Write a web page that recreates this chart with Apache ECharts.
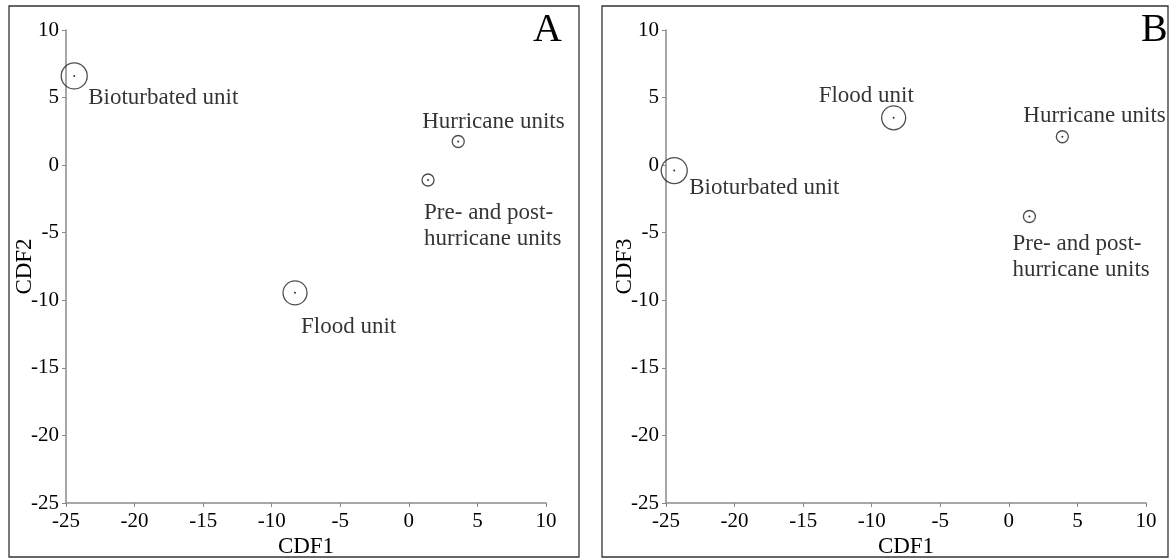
<!DOCTYPE html>
<html>
<head>
<meta charset="utf-8">
<script src="https://cdn.jsdelivr.net/npm/echarts@6/dist/echarts.min.js"></script>
<style>
  html, body { margin: 0; padding: 0; background: #fff; }
  #chart { width: 1170px; height: 559px; }
</style>
</head>
<body>
<div id="chart"></div>
<script>
// discriminant function scores (group centroids)
const units = ['Bioturbated unit', 'Flood unit', 'Hurricane units', 'Pre- and post-\nhurricane units'];
const cdf1A = [-24.4, -8.3, 3.6, 1.4];
const cdf2 = [6.6, -9.45, 1.75, -1.1];
const cdf1B = [-24.4, -8.4, 3.9, 1.5];
const cdf3 = [-0.4, 3.5, 2.1, -3.8];
const ticks = [-25, -20, -15, -10, -5, 0, 5, 10];

// circle size and label placement per unit (pixels)
const ringSize = [26, 24, 12, 12];
const labelPosA = [[14, 22], [6, 34], [-36, -20], [-4, 46]];
const labelPosB = [[15, 17], [-75, -22], [-39, -21], [-17, 40]];

const font = 'Liberation Serif, Times New Roman, serif';

function axisCfg(name, gi, isY) {
  return {
    type: 'value',
    gridIndex: gi,
    min: ticks[0],
    max: ticks[ticks.length - 1],
    interval: 5,
    name: name,
    nameLocation: 'middle',
    nameGap: isY ? 30 : 32,
    nameMoveOverlap: false,
    nameTextStyle: { fontFamily: font, fontSize: 23, color: '#000' },
    axisLine: { show: true, onZero: false, lineStyle: { color: '#8a8a8a', width: 1.5 } },
    axisTick: { show: true, length: 4, lineStyle: { color: '#8a8a8a' } },
    axisLabel: { fontFamily: font, fontSize: 21, color: '#000', margin: isY ? 7 : 8 },
    splitLine: { show: false }
  };
}

function ringSeries(xs, ys, gi) {
  return {
    type: 'scatter',
    xAxisIndex: gi,
    yAxisIndex: gi,
    clip: false,
    symbol: 'circle',
    itemStyle: { color: 'rgba(255,255,255,0)', borderColor: '#222', borderWidth: 1.3 },
    data: xs.map((x, i) => ({ value: [x, ys[i]], symbolSize: ringSize[i] })),
    silent: true
  };
}

function dotSeries(xs, ys, gi, pos) {
  return {
    type: 'scatter',
    xAxisIndex: gi,
    yAxisIndex: gi,
    clip: false,
    symbolSize: 2,
    itemStyle: { color: '#000' },
    data: xs.map((x, i) => ({
      value: [x, ys[i]],
      name: units[i],
      label: {
        show: true,
        formatter: units[i],
        position: [pos[i][0] + 1, pos[i][1] + 1],
        align: 'left',
        verticalAlign: 'middle',
        fontFamily: font,
        fontSize: 23,
        lineHeight: 26,
        color: '#000'
      }
    })),
    silent: true
  };
}

const chart = echarts.init(document.getElementById('chart'));
chart.setOption({
  animation: false,
  grid: [
    { left: 66, top: 30, width: 480, height: 473, outerBoundsMode: 'none' },
    { left: 666, top: 30, width: 480, height: 473, outerBoundsMode: 'none' }
  ],
  xAxis: [axisCfg('CDF1', 0, false), axisCfg('CDF1', 1, false)],
  yAxis: [axisCfg('CDF2', 0, true), axisCfg('CDF3', 1, true)],
  series: [
    ringSeries(cdf1A, cdf2, 0),
    dotSeries(cdf1A, cdf2, 0, labelPosA),
    ringSeries(cdf1B, cdf3, 1),
    dotSeries(cdf1B, cdf3, 1, labelPosB)
  ],
  graphic: [
    { type: 'rect', shape: { x: 9, y: 6, width: 570, height: 551 }, style: { fill: 'none', stroke: '#333', lineWidth: 1.3 } },
    { type: 'rect', shape: { x: 602, y: 6, width: 566, height: 551 }, style: { fill: 'none', stroke: '#333', lineWidth: 1.3 } },
    { type: 'text', left: 533, top: 10, style: { text: 'A', font: '40px ' + font, fill: '#000' } },
    { type: 'text', left: 1141, top: 10, style: { text: 'B', font: '40px ' + font, fill: '#000' } }
  ]
});
</script>
</body>
</html>
